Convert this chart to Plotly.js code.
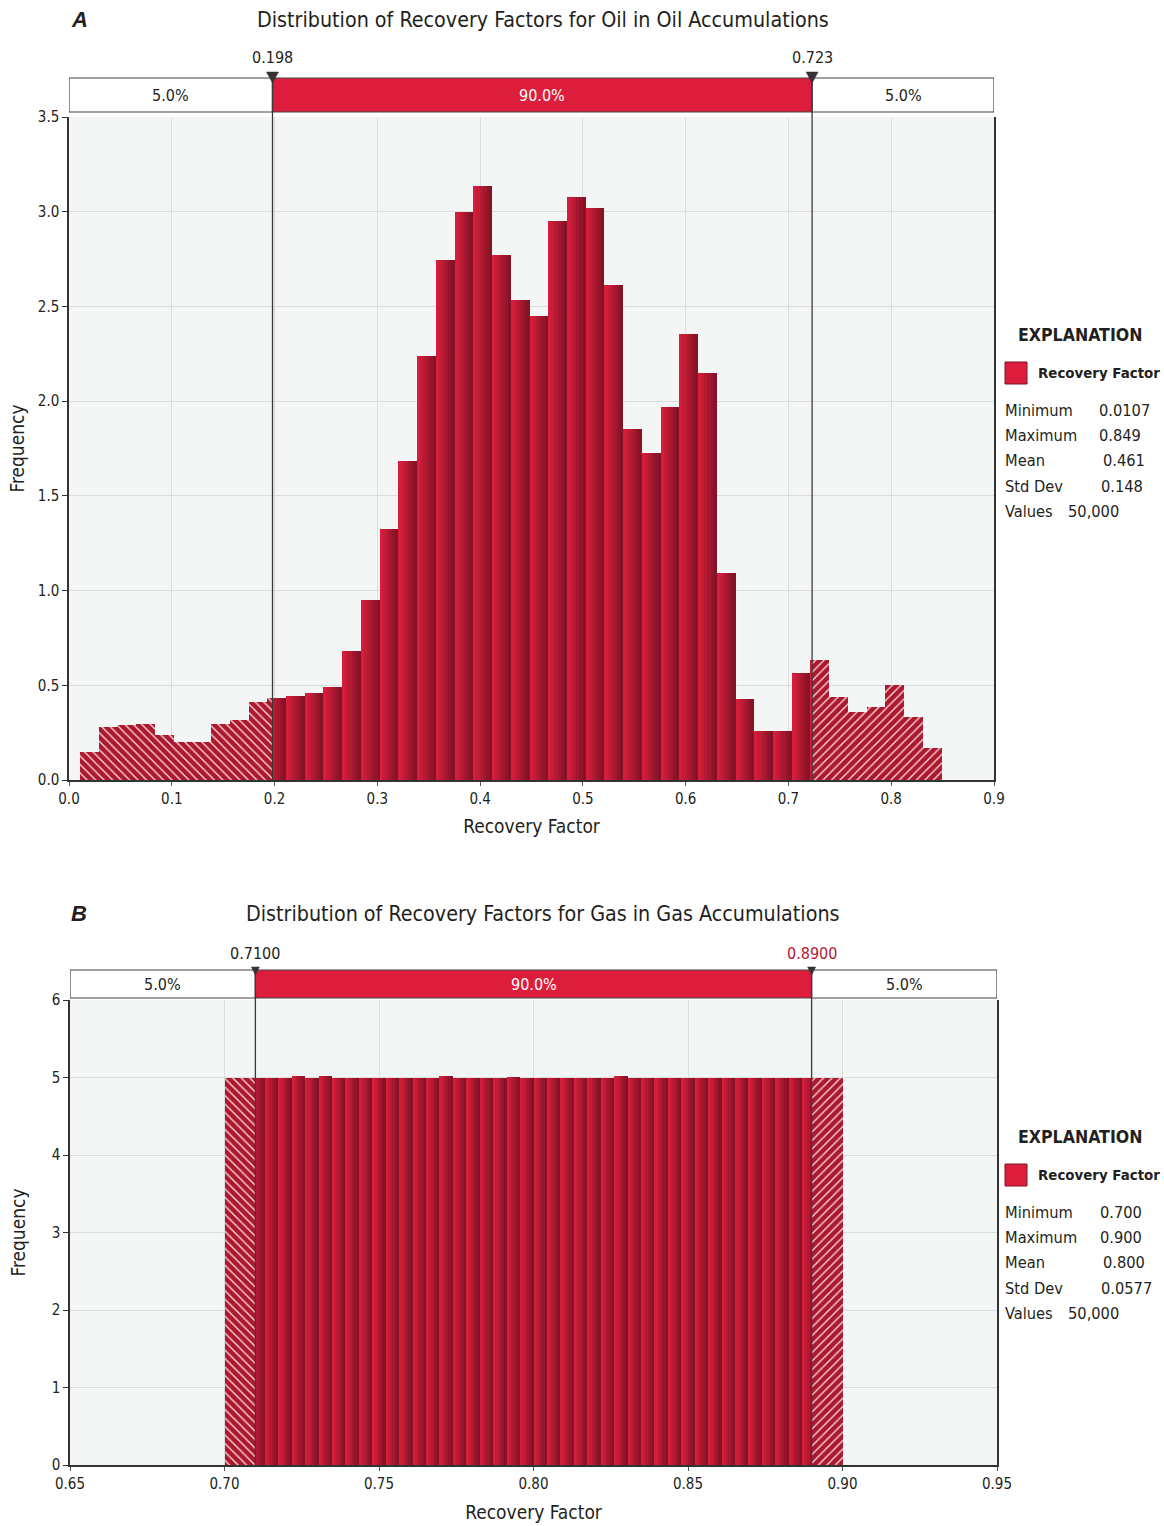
<!DOCTYPE html>
<html><head><meta charset="utf-8">
<script src="https://cdn.plot.ly/plotly-3.0.1.min.js"></script>
<style>html,body{margin:0;padding:0;background:#fff}#chart{width:1164px;height:1526px}</style>
</head><body><div id="chart"></div>
<script>
// ---------------- data ----------------
const oilBinStart = 0.0107;
const oilBinEnd = 0.849;
const oilFreq = [0.146,0.282,0.289,0.294,0.238,0.202,0.202,0.294,0.315,0.414,
                 0.435,0.444,0.458,0.493,0.683,0.951,1.324,1.683,2.239,2.745,
                 2.997,3.136,2.774,2.534,2.450,2.950,3.077,3.020,2.612,1.852,
                 1.725,1.971,2.353,2.147,1.092,0.430,0.261,0.261,0.563,0.634,
                 0.437,0.357,0.387,0.500,0.331,0.167];
const oilP5 = 0.198, oilP95 = 0.723;
const oilPctLabels = ['0.198', '0.723'];
const oilStatValues = ['0.0107', '0.849', '0.461', '0.148', '50,000'];

const gasBinStart = 0.700;
const gasBinEnd = 0.900;
const gasFreq = [4.99,5.00,5.00,4.99,5.00,5.02,5.00,5.02,5.00,4.99,
                 5.00,5.00,5.00,5.00,4.99,5.00,5.02,5.00,5.00,5.00,
                 5.00,5.01,5.00,4.99,5.00,5.00,5.00,5.00,5.00,5.02,
                 5.00,5.00,5.00,4.99,5.00,5.00,5.00,5.00,5.00,5.00,
                 5.00,4.99,5.00,5.00,5.00,5.00];
const gasP5 = 0.7100, gasP95 = 0.8900;
const gasPctLabels = ['0.7100', '0.8900'];
const gasStatValues = ['0.700', '0.900', '0.800', '0.0577', '50,000'];

const tailShares = ['5.0%', '90.0%', '5.0%'];
const statLabels = ['Minimum', 'Maximum', 'Mean', 'Std Dev', 'Values'];
const panelTitles = ['Distribution of Recovery Factors for Oil in Oil Accumulations',
                     'Distribution of Recovery Factors for Gas in Gas Accumulations'];
const panelLetters = ['A', 'B'];
const legendName = 'Recovery Factor';
const xTitle = 'Recovery Factor';
const yTitle = 'Frequency';

// ---------------- style / geometry ----------------
const W = 1164, H = 1526;
const FONT = '"DejaVu Sans Condensed","Liberation Sans Narrow","Arial Narrow",Roboto,sans-serif';
const BOLDFONT = '"Liberation Sans",Arial,Roboto,sans-serif';
const TXT = '#231f20';
const RED = '#dc1e3c';
const px = v => v / W, py = v => 1 - v / H;

const panels = [
  {xa:'x', ya:'y', xr:[0,0.9], dx:0.1, xfmt:'.1f', yr:[0,3.5], dy:0.5, yfmt:'.1f',
   left:69, right:994, top:117, bottom:780, boxTop:78, boxBot:112, pctY:57, triTop:72, triBot:83, triHalf:6,
   titleY:19, legY:335, valX:[1097,1097,1101,1099,1066], yStand:8, xStand:13,
   start:oilBinStart, end:oilBinEnd, freq:oilFreq, p5:oilP5, p95:oilP95, pctLabels:oilPctLabels,
   pctColors:[TXT,TXT], stats:oilStatValues},
  {xa:'x2', ya:'y2', xr:[0.65,0.95], dx:0.05, xfmt:'.2f', yr:[0,6], dy:1, yfmt:'d',
   left:70, right:997, top:1000, bottom:1465, boxTop:970, boxBot:998, pctY:954, triTop:967, triBot:975, triHalf:4,
   titleY:913, legY:1137, valX:[1098,1098,1101,1099,1066], yStand:21, xStand:14,
   start:gasBinStart, end:gasBinEnd, freq:gasFreq, p5:gasP5, p95:gasP95, pctLabels:gasPctLabels,
   pctColors:[TXT,'#b5172f'], stats:gasStatValues}
];

const c0 = [214,30,60], c1 = [132,19,37];
const NS = 6;
function sliceColor(s){
  const t = s/(NS-1);
  const c = c0.map((v,k)=>Math.round(v+(c1[k]-v)*t));
  return `rgb(${c[0]},${c[1]},${c[2]})`;
}

function histTraces(P){
  const n = P.freq.length, w = (P.end-P.start)/n;
  const mk = () => ({x:[],y:[],width:[]});
  const slices = Array.from({length:NS}, mk);
  const left = mk(), right = mk();
  const push = (o,a,b,h) => { if (b-a > 1e-9){ o.x.push((a+b)/2); o.width.push(b-a); o.y.push(h);} };
  P.freq.forEach((h,i) => {
    const lo = P.start + i*w, hi = lo + w;
    push(left, lo, Math.min(hi,P.p5), h);
    push(right, Math.max(lo,P.p95), hi, h);
    for (let s=0;s<NS;s++){
      const a = lo + s*w/NS, b = a + w/NS;
      push(slices[s], Math.max(a,P.p5), Math.min(b,P.p95), h);
    }
  });
  const base = {type:'bar', xaxis:P.xa, yaxis:P.ya, hoverinfo:'skip', showlegend:false};
  const tr = slices.map((o,s) => Object.assign({}, base, o, {marker:{color:sliceColor(s), line:{width:0}}}));
  const hatch = (o,shape) => Object.assign({}, base, o, {marker:{color:'#ad182e', line:{width:0},
      pattern:{shape:shape, bgcolor:'#ad182e', fgcolor:'#ffffff', fgopacity:0.85, size:6, solidity:0.22, fillmode:'replace'}}});
  tr.push(hatch(left,'\\'));
  tr.push(hatch(right,'/'));
  return tr;
}

let traces = [];
const shapes = [], annotations = [];
const layout = {
  width:W, height:H, margin:{l:0,r:0,t:0,b:0}, paper_bgcolor:'#fff', plot_bgcolor:'#f4f6f6',
  barmode:'overlay', bargap:0, showlegend:false, font:{family:FONT, color:TXT, size:15}
};

panels.forEach((P,k) => {
  traces = traces.concat(histTraces(P));
  const xk = k===0 ? 'xaxis' : 'xaxis2', yk = k===0 ? 'yaxis' : 'yaxis2';
  layout[xk] = {domain:[px(P.left), px(P.right)], range:P.xr, dtick:P.dx, tick0:P.xr[0], tickformat:P.xfmt,
    anchor:P.ya, showgrid:true, gridcolor:'#dcdede', gridwidth:1, zeroline:false, showline:true,
    linecolor:'#333', linewidth:1.5, ticks:'outside', ticklen:4, tickcolor:'#555',
    tickfont:{size:15, color:TXT}, fixedrange:true,
    title:{text:xTitle, font:{size:19, color:TXT}, standoff:P.xStand}};
  layout[yk] = {domain:[py(P.bottom), py(P.top)], range:P.yr, dtick:P.dy, tick0:0, tickformat:P.yfmt,
    anchor:P.xa, showgrid:true, gridcolor:'#dcdede', gridwidth:1, zeroline:false, showline:true, mirror:true,
    linecolor:'#333', linewidth:1.5, ticks:'outside', ticklen:5, tickcolor:'#333',
    tickfont:{size:15, color:TXT}, fixedrange:true,
    title:{text:yTitle, font:{size:19, color:TXT}, standoff:P.yStand}};

  // percentile box
  const segs = [[P.xr[0],P.p5,'#fff'],[P.p5,P.p95,RED],[P.p95,P.xr[1],'#fff']];
  segs.forEach((s,i) => {
    shapes.push({type:'rect', xref:P.xa, yref:'paper', x0:s[0], x1:s[1], y0:py(P.boxBot), y1:py(P.boxTop),
      fillcolor:s[2], line:{color:'#444', width:1.2}, layer:'above'});
    annotations.push({xref:P.xa, yref:'paper', x:(s[0]+s[1])/2, y:py((P.boxTop+P.boxBot)/2),
      text:tailShares[i], showarrow:false, xanchor:'center', yanchor:'middle',
      font:{size:16, color: i===1 ? '#fff' : TXT}});
  });
  // percentile lines, triangles, labels
  const xpx = (P.xr[1]-P.xr[0])/(P.right-P.left);
  [P.p5, P.p95].forEach((p,i) => {
    shapes.push({type:'line', xref:P.xa, yref:'paper', x0:p, x1:p, y0:py(P.bottom), y1:py(P.boxTop),
      line:{color:'#3a3a3a', width:1.3}, layer:'above'});
    const h = P.triHalf*xpx;
    shapes.push({type:'path', xref:P.xa, yref:'paper',
      path:`M ${p-h},${py(P.triTop)} L ${p+h},${py(P.triTop)} L ${p},${py(P.triBot)} Z`,
      fillcolor:'#333', line:{color:'#333', width:0.5}, layer:'above'});
    annotations.push({xref:P.xa, yref:'paper', x:p, y:py(P.pctY), text:P.pctLabels[i], showarrow:false,
      xanchor:'center', yanchor:'middle', font:{size:16, color:P.pctColors[i]}});
  });
  // titles
  annotations.push({xref:'paper', yref:'paper', x:px(543), y:py(P.titleY), text:panelTitles[k], showarrow:false,
    xanchor:'center', yanchor:'middle', font:{size:21.3, color:TXT}});
  annotations.push({xref:'paper', yref:'paper', x:px(69), y:py(P.titleY), text:'<b><i>'+panelLetters[k]+'</i></b>',
    showarrow:false, xanchor:'left', yanchor:'middle', font:{family:BOLDFONT, size:22, color:TXT}});
  // explanation block
  annotations.push({xref:'paper', yref:'paper', x:px(1016), y:py(P.legY), text:'<b>EXPLANATION</b>', showarrow:false,
    xanchor:'left', yanchor:'middle', font:{size:17.6, color:TXT, weight:'bold'}});
  shapes.push({type:'rect', xref:'paper', yref:'paper', x0:px(1005), x1:px(1027), y0:py(P.legY+49), y1:py(P.legY+27),
    fillcolor:RED, line:{color:'#7a1424', width:1}});
  annotations.push({xref:'paper', yref:'paper', x:px(1036), y:py(P.legY+38), text:'<b>'+legendName+'</b>', showarrow:false,
    xanchor:'left', yanchor:'middle', font:{size:14.9, color:TXT, weight:'bold'}});
  statLabels.forEach((lab,i) => {
    const y = py(P.legY + 75 + i*25.4);
    annotations.push({xref:'paper', yref:'paper', x:px(1003), y:y, text:lab, showarrow:false,
      xanchor:'left', yanchor:'middle', font:{size:16.3, color:TXT}});
    annotations.push({xref:'paper', yref:'paper', x:px(P.valX[i]), y:y, text:P.stats[i], showarrow:false,
      xanchor:'left', yanchor:'middle', font:{size:16.3, color:TXT}});
  });
});
layout.shapes = shapes;
layout.annotations = annotations;

Plotly.newPlot('chart', traces, layout, {displayModeBar:false, responsive:false});
</script>
</body></html>
